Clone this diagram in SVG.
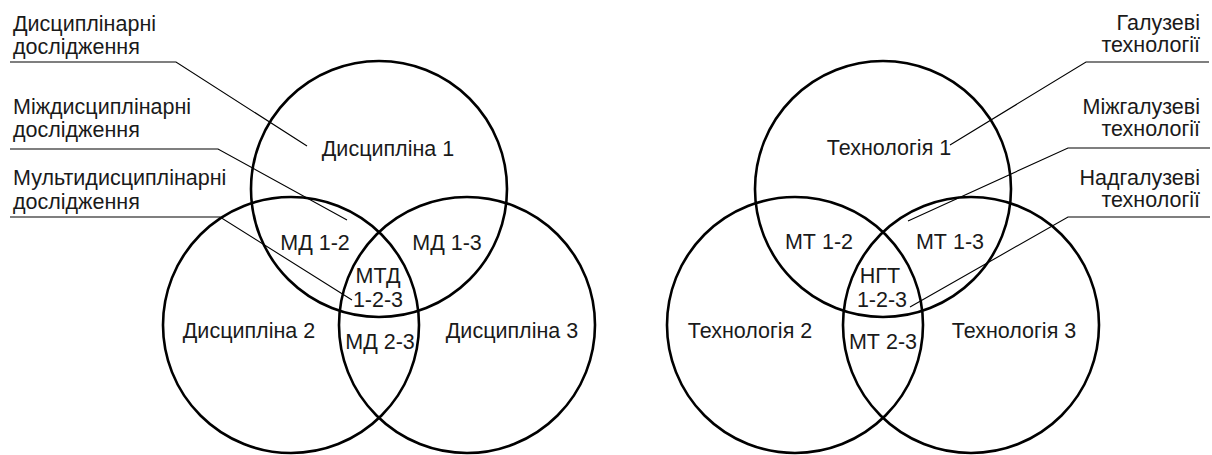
<svg xmlns="http://www.w3.org/2000/svg" width="1212" height="455" viewBox="0 0 1212 455">
<style>
.c{fill:none;stroke:#000;stroke-width:2.6}
.l{fill:none;stroke:#000;stroke-width:1.1}
text{font-family:"Liberation Sans",Arial,sans-serif;font-size:21.5px;fill:#1a1a1a}
.m{text-anchor:middle}
.e{text-anchor:end}
</style>
<rect width="1212" height="455" fill="#fff"/>
<g id="connectors">
<polyline class="l" points="10,62 176,62 307,146"/>
<polyline class="l" points="10,149 218,149 347,220"/>
<polyline class="l" points="10,217 220,217 352,300"/>
<polyline class="l" points="1209,62 1086,62 950,145"/>
<polyline class="l" points="1210,148 1068,148 908,221"/>
<polyline class="l" points="1210,217 1068,217 910,307"/>
</g>
<g id="left-venn">
<g id="d1"><circle class="c" cx="379" cy="189" r="128"/><text class="m" x="388" y="156">Дисципліна 1</text></g>
<g id="d2"><circle class="c" cx="291" cy="325" r="128"/><text class="m" x="249" y="338">Дисципліна 2</text></g>
<g id="d3"><circle class="c" cx="467" cy="325" r="128"/><text class="m" x="512" y="338">Дисципліна 3</text></g>
<g id="md12"><text class="m" x="315" y="250">МД 1-2</text></g>
<g id="md13"><text class="m" x="447" y="250">МД 1-3</text></g>
<g id="mtd"><text class="m" x="378" y="283">МТД</text><text class="m" x="378" y="307">1-2-3</text></g>
<g id="md23"><text class="m" x="380" y="349">МД 2-3</text></g>
</g>
<g id="left-labels">
<g id="lab-disc"><text x="13" y="31">Дисциплінарні</text><text x="13" y="54">дослідження</text></g>
<g id="lab-inter"><text x="13" y="114">Міждисциплінарні</text><text x="13" y="137">дослідження</text></g>
<g id="lab-multi"><text x="13" y="185">Мультидисциплінарні</text><text x="13" y="209">дослідження</text></g>
</g>
<g id="right-venn">
<g id="t1"><circle class="c" cx="883" cy="189" r="128"/><text class="m" x="889" y="155">Технологія 1</text></g>
<g id="t2"><circle class="c" cx="795" cy="325" r="128"/><text class="m" x="750" y="338">Технологія 2</text></g>
<g id="t3"><circle class="c" cx="971" cy="325" r="128"/><text class="m" x="1014" y="338">Технологія 3</text></g>
<g id="mt12"><text class="m" x="819" y="249">МТ 1-2</text></g>
<g id="mt13"><text class="m" x="950" y="249">МТ 1-3</text></g>
<g id="ngt"><text class="m" x="880" y="283">НГТ</text><text class="m" x="882" y="307">1-2-3</text></g>
<g id="mt23"><text class="m" x="883" y="349">МТ 2-3</text></g>
</g>
<g id="right-labels">
<g id="lab-gal"><text class="e" x="1200" y="30">Галузеві</text><text class="e" x="1200" y="52">технології</text></g>
<g id="lab-mizh"><text class="e" x="1200" y="114">Міжгалузеві</text><text class="e" x="1200" y="136">технології</text></g>
<g id="lab-nad"><text class="e" x="1200" y="185">Надгалузеві</text><text class="e" x="1200" y="207">технології</text></g>
</g>
</svg>
